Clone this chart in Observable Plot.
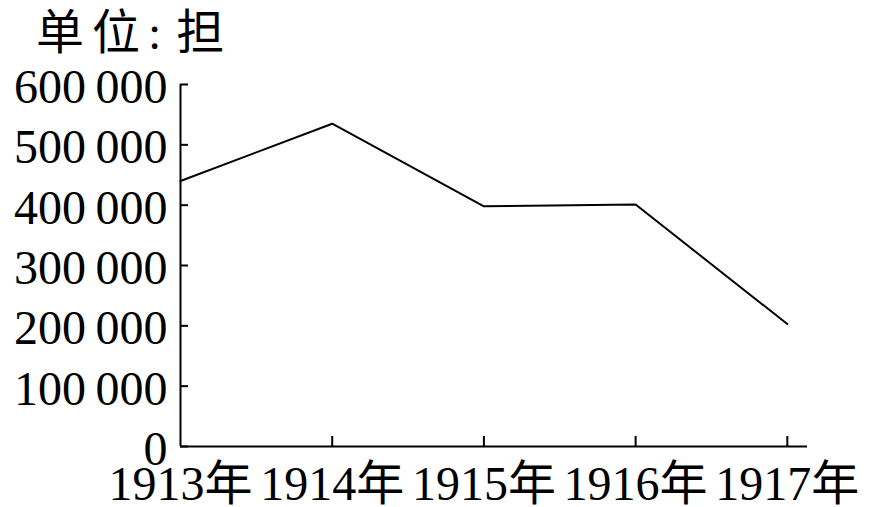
<!DOCTYPE html>
<html>
<head>
<meta charset="utf-8">
<script src="https://cdn.jsdelivr.net/npm/d3@7"></script>
<script src="https://cdn.jsdelivr.net/npm/@observablehq/plot@0.6"></script>
<style>
  html, body { margin: 0; padding: 0; background: #fff; }
  #wrap { position: relative; width: 873px; height: 507px; overflow: hidden; }
  #title { position: absolute; left: 36px; top: 9px; font-family: "Liberation Serif", "Noto Sans CJK SC", serif; font-size: 48px; line-height: 48px; color: #000; letter-spacing: 8px; white-space: pre; }
  #title .colon { letter-spacing: 15px; }
  #chart { position: absolute; left: 0; top: 62px; }
  #chart svg { font-family: "Liberation Serif", "Noto Sans CJK SC", serif; overflow: visible; }
</style>
</head>
<body>
<div id="wrap">
  <div id="title">单位<span class="colon">:</span>担</div>
  <div id="chart"></div>
</div>
<script>
const years = [1913, 1914, 1915, 1916, 1917];
const values = [440000, 535000, 398000, 401000, 203000];
const yTicks = [0, 100000, 200000, 300000, 400000, 500000, 600000];
const yTickLabels = ["0", "100\u2009000", "200\u2009000", "300\u2009000", "400\u2009000", "500\u2009000", "600\u2009000"];
const xTickLabels = ["1913年", "1914年", "1915年", "1916年", "1917年"];

const data = years.map((y, i) => ({year: y, value: values[i]}));

const chart = Plot.plot({
  width: 873,
  height: 445,
  marginTop: 22,
  marginLeft: 180,
  marginRight: 66,
  marginBottom: 61,
  style: {fontSize: "48px", fontFamily: "Liberation Serif, Noto Sans CJK SC, serif", color: "#000", background: "#fff"},
  x: {domain: [1913, 1917.133], type: "linear", label: null},
  y: {domain: [0, 600000], label: null},
  marks: [
    Plot.axisY({anchor: "left", ticks: yTicks, tickSize: 8, dx: 8, text: null, strokeWidth: 2, label: null}),
    Plot.axisY({anchor: "left", ticks: yTicks, tickSize: 0, tickPadding: 13, dy: 3,
      tickFormat: (d) => yTickLabels[yTicks.indexOf(d)], label: null, fontSize: 48}),
    Plot.axisX({anchor: "bottom", ticks: years.slice(1), tickSize: 10, dy: -10, text: null, strokeWidth: 2, label: null}),
    Plot.axisX({anchor: "bottom", ticks: years, tickSize: 0, tickPadding: 19,
      tickFormat: (d) => xTickLabels[years.indexOf(d)], label: null, fontSize: 48}),
    Plot.ruleY([0], {stroke: "#000", strokeWidth: 2}),
    Plot.ruleX([1913], {stroke: "#000", strokeWidth: 2}),
    Plot.line(data, {x: "year", y: "value", stroke: "#000", strokeWidth: 2})
  ]
});
document.getElementById("chart").appendChild(chart);
</script>
</body>
</html>
